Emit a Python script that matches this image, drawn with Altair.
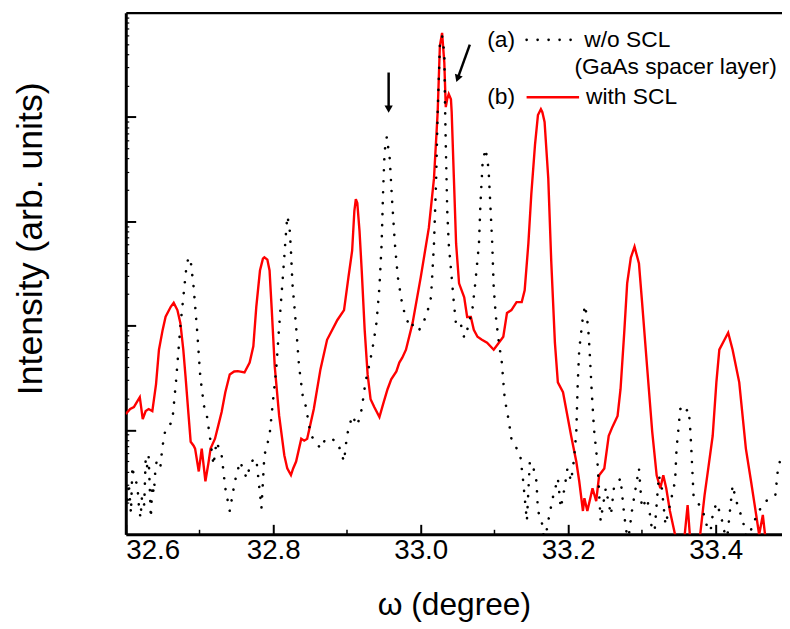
import altair as alt
import pandas as pd

# ---------------- data ----------------
# (b) with SCL : omega (degree) and log10(intensity)
omega_b = [32.600, 32.606, 32.611, 32.615, 32.619, 32.623, 32.627, 32.631, 32.636, 32.641,
           32.645, 32.650, 32.654, 32.661, 32.665, 32.670, 32.674, 32.678, 32.681, 32.685,
           32.688, 32.692, 32.694, 32.699, 32.703, 32.708, 32.712, 32.715, 32.721, 32.725,
           32.730, 32.735, 32.741, 32.747, 32.752, 32.761, 32.768, 32.773, 32.777, 32.782,
           32.786, 32.788, 32.792, 32.795, 32.798, 32.802, 32.808, 32.815, 32.819, 32.824,
           32.827, 32.831, 32.838, 32.842, 32.846, 32.855, 32.864, 32.873, 32.887, 32.896,
           32.902, 32.907, 32.910, 32.912, 32.914, 32.917, 32.920, 32.924, 32.928, 32.932,
           32.937, 32.944, 32.949, 32.955, 32.960, 32.967, 32.971, 32.975, 32.980, 32.989,
           33.000, 33.011, 33.018, 33.023, 33.026, 33.029, 33.030, 33.032, 33.034, 33.036,
           33.038, 33.041, 33.042, 33.045, 33.048, 33.052, 33.059, 33.063, 33.068, 33.072,
           33.077, 33.083, 33.090, 33.099, 33.106, 33.112, 33.117, 33.123, 33.130, 33.137,
           33.141, 33.146, 33.150, 33.155, 33.159, 33.163, 33.165, 33.168, 33.173, 33.177,
           33.182, 33.186, 33.193, 33.199, 33.204, 33.211, 33.215, 33.220, 33.222, 33.226,
           33.230, 33.233, 33.238, 33.242, 33.249, 33.255, 33.260, 33.267, 33.271, 33.276,
           33.280, 33.285, 33.290, 33.296, 33.300, 33.307, 33.314, 33.320, 33.325, 33.329,
           33.333, 33.338, 33.345, 33.351, 33.357, 33.362, 33.365, 33.369, 33.379, 33.385,
           33.390, 33.396, 33.401, 33.405, 33.412, 33.417, 33.423, 33.432, 33.441, 33.448,
           33.455, 33.459, 33.464, 33.467, 33.472]
log_b = [1.153, 1.200, 1.219, 1.267, 1.314, 1.105, 1.181, 1.200, 1.181, 1.437,
         1.769, 1.959, 2.085, 2.180, 2.218, 2.149, 2.026, 1.769, 1.516, 1.153,
         0.887, 0.849, 0.821, 0.602, 0.821, 0.508, 0.678, 0.821, 0.916, 1.029,
         1.172, 1.361, 1.532, 1.560, 1.564, 1.551, 1.646, 1.801, 2.180, 2.528,
         2.642, 2.655, 2.633, 2.528, 2.149, 1.611, 1.137, 0.757, 0.631, 0.567,
         0.631, 0.697, 0.916, 0.897, 0.916, 1.200, 1.580, 1.864, 2.054, 2.149,
         2.465, 2.718, 3.098, 3.212, 3.174, 2.908, 2.528, 1.959, 1.532, 1.295,
         1.219, 1.124, 1.248, 1.390, 1.485, 1.561, 1.646, 1.693, 1.769, 2.026,
         2.462, 2.936, 3.411, 4.046, 4.682, 4.806, 4.711, 4.521, 4.094, 4.173,
         4.220, 4.170, 4.046, 3.411, 2.785, 2.405, 2.272, 2.083, 2.083, 1.959,
         1.893, 1.864, 1.836, 1.769, 1.836, 1.893, 2.121, 2.149, 2.225, 2.225,
         2.339, 2.785, 3.259, 3.733, 4.018, 4.075, 4.046, 3.952, 3.411, 2.623,
         1.836, 1.456, 1.362, 1.134, 0.944, 0.697, 0.508, 0.223, 0.346, 0.223,
         0.346, 0.441, 0.318, 0.565, 0.631, 0.944, 1.029, 1.134, 1.390, 1.931,
         2.405, 2.652, 2.756, 2.595, 2.244, 1.608, 0.982, 0.565, 0.441, 0.565,
         0.441, 0.223, -0.005, -0.223, -0.081, 0.280, -0.005, -0.223, -0.005, 0.375,
         0.631, 0.944, 1.456, 1.769, 1.864, 1.931, 1.769, 1.456, 0.821, 0.508,
         0.185, -0.005, 0.185, -0.005, -0.223]

# (a) w/o SCL : omega (degree) and log10(intensity)
omega_a = [32.600, 32.602, 32.604, 32.607, 32.609, 32.611, 32.613, 32.616, 32.618, 32.620,
           32.622, 32.625, 32.627, 32.629, 32.631, 32.634, 32.636, 32.638, 32.640, 32.642,
           32.645, 32.647, 32.649, 32.651, 32.654,
           32.663, 32.668, 32.674, 32.679, 32.682, 32.685, 32.688,
           32.692, 32.697, 32.701, 32.706, 32.710, 32.715, 32.719, 32.723, 32.730, 32.735,
           32.741, 32.748, 32.755, 32.764, 32.770, 32.777, 32.784, 32.788, 32.795, 32.799,
           32.804, 32.808, 32.813, 32.817, 32.819, 32.822, 32.824, 32.826, 32.831, 32.835,
           32.840, 32.844, 32.851, 32.858, 32.864, 32.871, 32.878, 32.887, 32.896, 32.900,
           32.907, 32.914, 32.920, 32.925, 32.931, 32.936, 32.940, 32.944, 32.947, 32.949,
           32.951, 32.954, 32.958, 32.961, 32.965, 32.969, 32.974, 32.978, 32.983, 32.987,
           32.991, 32.998, 33.005, 33.009, 33.014, 33.016, 33.018, 33.021, 33.023, 33.026,
           33.029, 33.032, 33.033, 33.034, 33.036, 33.038, 33.042, 33.045, 33.048, 33.054,
           33.059, 33.063, 33.070, 33.074, 33.079, 33.081, 33.084, 33.088, 33.092, 33.094,
           33.097, 33.099, 33.102, 33.106, 33.110, 33.114, 33.119, 33.123, 33.128, 33.135,
           33.139, 33.144, 33.148, 33.152, 33.157, 33.159, 33.164, 33.168, 33.173, 33.179,
           33.186, 33.190, 33.195, 33.199, 33.204, 33.208, 33.211, 33.213, 33.215, 33.220,
           33.223, 33.227, 33.229, 33.232, 33.235, 33.240, 33.244, 33.251, 33.258, 33.262,
           33.271, 33.276, 33.281, 33.287, 33.296, 33.300, 33.307, 33.311, 33.316, 33.323,
           33.327, 33.332, 33.338, 33.345, 33.347, 33.352, 33.355, 33.358, 33.363, 33.365,
           33.367, 33.370, 33.374, 33.381, 33.387, 33.391, 33.396, 33.401, 33.407, 33.415,
           33.423, 33.428, 33.437, 33.443, 33.450, 33.461, 33.472, 33.481, 33.485, 33.489]
log_a = [0.441, 0.280, 0.489, 0.204, 0.650, 0.555, 0.536, 0.441, 0.251, 0.157,
         0.365, 0.280, 0.726, 0.650, 0.745, 0.157, 0.470, 0.394, 0.602, 0.707,
         0.697, 0.650, 0.792, 0.897, 1.010,
         1.077, 1.456, 1.991, 2.339, 2.547, 2.655, 2.623,
         2.370, 1.931, 1.516, 1.231, 1.137, 0.887, 0.662, 0.887, 0.757, 0.441,
         0.223, 0.508, 0.697, 0.536, 0.697, 0.726, 0.251, 0.757, 0.947, 1.231,
         1.580, 1.991, 2.465, 2.861, 3.050, 2.955, 2.718, 2.405, 1.991, 1.611,
         1.326, 1.231, 0.947, 0.887, 0.821, 0.916, 0.916, 0.887, 0.697, 0.947,
         1.137, 1.042, 1.200, 1.456, 1.646, 1.836, 2.026, 2.367, 2.785, 3.288,
         3.667, 3.809, 3.601, 3.221, 2.785, 2.462, 2.244, 2.121, 2.026, 2.054,
         1.959, 1.959, 2.054, 2.130, 2.272, 2.528, 2.785, 3.411, 4.046, 4.682,
         4.777, 4.616, 4.113, 3.733, 3.098, 2.785, 2.462, 2.215, 2.007, 2.026,
         1.883, 1.959, 2.149, 2.405, 2.785, 3.164, 3.572, 3.695, 3.506, 3.221,
         2.785, 2.367, 2.083, 1.836, 1.646, 1.295, 1.105, 0.916, 0.852, 0.757,
         0.508, 0.128, 0.697, 0.662, 0.508, 0.223, 0.128, -0.081, 0.128, 0.346,
         0.536, 0.251, 0.441, 0.631, 0.508, 0.726, 0.982, 1.456, 1.769, 2.085,
         2.196, 1.991, 1.769, 1.361, 1.010, 0.662, 0.128, 0.441, 0.185, 0.441,
         0.536, 0.185, -0.081, 0.251, 0.631, 0.251, 0.346, 0.185, -0.081, 0.565,
         0.441, 0.090, 0.280, 0.508, 0.821, 1.200, 1.219, 1.172, 1.200, 1.077,
         0.821, 0.375, 0.318, 0.251, 0.128, -0.081, 0.185, 0.299, 0.185, -0.081,
         0.470, 0.318, 0.128, -0.081, 0.090, 0.251, 0.346, 0.375, 0.660, 0.726]

# annotations (arrows) in data units
arrow_omega = [32.9565, 33.0666]
arrow_log = [4.426, 4.694]
head_omega = [32.9565, 33.050]
head_log = [4.075, 4.368]
head_angle = [0, 20]

# legend entries in data units
tag_text = ["(a)", "(b)"]
tag_omega = [33.1091, 33.1091]
tag_log = [4.739, 4.189]
name_text = ["w/o SCL", "(GaAs spacer layer)", "with SCL"]
name_omega = [33.2219, 33.2085, 33.2242]
name_log = [4.739, 4.475, 4.189]
sample_omega = [33.1436, 33.2058, 33.1436, 33.2148]
sample_log = [4.739, 4.189]

x_major = [32.6, 32.8, 33.0, 33.2, 33.4]
x_minor = [32.7, 32.9, 33.1, 33.3]
y_major = [10, 100, 1000, 10000]
y_minor = [k * 10 ** n for n in range(5) for k in range(2, 10)]

W, H = 663, 527
XDOM = [32.6, 33.49]
YDOM = [1, 100000]
FONT = "Liberation Sans"

df_b = pd.DataFrame({"omega": omega_b, "I": [10 ** v for v in log_b]})
df_a = pd.DataFrame({"omega": omega_a, "I": [10 ** v for v in log_a]})
df_a["seq"] = range(len(df_a))
df_arrow = pd.DataFrame({
    "x": arrow_omega, "y": [10 ** v for v in arrow_log],
    "x2": head_omega, "y2": [10 ** v for v in head_log],
    "angle": head_angle,
})
df_tag = pd.DataFrame({"t": tag_text, "x": tag_omega, "y": [10 ** v for v in tag_log]})
df_name = pd.DataFrame({"t": name_text, "x": name_omega, "y": [10 ** v for v in name_log]})
df_sa = pd.DataFrame({"x": sample_omega[:2], "y": [10 ** sample_log[0]] * 2})
df_sb = pd.DataFrame({"x": sample_omega[2:], "y": [10 ** sample_log[1]] * 2})

xs = alt.Scale(domain=XDOM, nice=False, zero=False)
ys = alt.Scale(type="log", domain=YDOM, nice=False)


def inner_x(values, size, width):
    return alt.Axis(orient="top", offset=-H, values=values, tickSize=size, tickWidth=width,
                    tickColor="black", labels=False, domain=False, grid=False, title=None)


def inner_y(values, size, width):
    return alt.Axis(orient="right", offset=-W, values=values, tickSize=size, tickWidth=width,
                    tickColor="black", labels=False, domain=False, grid=False, title=None)


red = alt.Chart(df_b).mark_line(color="#ff0000", strokeWidth=2.4, clip=True).encode(
    x=alt.X("omega:Q", scale=xs, axis=alt.Axis(
        orient="bottom", values=x_major, format=".1f", ticks=True, tickSize=0, tickWidth=0,
        grid=False, domain=True, domainColor="black", domainWidth=3,
        labelFont=FONT, labelFontSize=28, labelColor="black", labelPadding=3,
        title="ω (degree)", titleFont=FONT, titleFontSize=32, titleFontWeight="normal",
        titleColor="black", titlePadding=25)),
    y=alt.Y("I:Q", scale=ys, axis=alt.Axis(
        orient="left", ticks=False, labels=False, grid=False,
        domain=True, domainColor="black", domainWidth=3,
        title="Intensity (arb. units)", titleFont=FONT, titleFontSize=36,
        titleFontWeight="normal", titleColor="black", titlePadding=77, titleY=228)),
    order="omega:Q",
)

black = alt.Chart(df_a).mark_line(color="black", strokeWidth=2.6, strokeDash=[0.1, 11],
                                  strokeCap="round", clip=True).encode(
    x=alt.X("omega:Q", scale=xs, axis=inner_x(x_major, 10, 2)),
    y=alt.Y("I:Q", scale=ys, axis=inner_y(y_major, 10, 2)),
    order="seq:Q",
)

shafts = alt.Chart(df_arrow).mark_rule(color="black", strokeWidth=2.5).encode(
    x=alt.X("x:Q", scale=xs, axis=inner_x(x_minor, 5, 1.5)),
    y=alt.Y("y:Q", scale=ys, axis=inner_y(y_minor, 3, 1.2)),
    x2="x2:Q", y2="y2:Q",
)

heads = alt.Chart(df_arrow).mark_point(shape="triangle-down", filled=True, color="black",
                                       size=70, opacity=1).encode(
    x=alt.X("x2:Q", scale=xs, axis=alt.Axis(orient="top", ticks=False, labels=False,
                                              grid=False, domain=True, domainColor="black",
                                              domainWidth=2.5, title=None)),
    y=alt.Y("y2:Q", scale=ys, axis=None),
    angle=alt.Angle("angle:Q", scale=None),
)

tags = alt.Chart(df_tag).mark_text(font=FONT, fontSize=23, baseline="middle", align="center",
                                   color="black").encode(
    x=alt.X("x:Q", scale=xs, axis=None),
    y=alt.Y("y:Q", scale=ys, axis=None),
    text="t:N",
)
names = alt.Chart(df_name).mark_text(font=FONT, fontSize=23, baseline="middle", align="left",
                                     color="black").encode(
    x=alt.X("x:Q", scale=xs, axis=None),
    y=alt.Y("y:Q", scale=ys, axis=None),
    text="t:N",
)

samp_a = alt.Chart(df_sa).mark_line(
    color="black", strokeWidth=2.6, strokeDash=[0.1, 11], strokeCap="round").encode(
    x=alt.X("x:Q", scale=xs, axis=None),
    y=alt.Y("y:Q", scale=ys, axis=None),
)
samp_b = alt.Chart(df_sb).mark_line(color="#ff0000", strokeWidth=2.4).encode(
    x=alt.X("x:Q", scale=xs, axis=None),
    y=alt.Y("y:Q", scale=ys, axis=None),
)

chart = alt.layer(red, black, shafts, heads, tags, names, samp_a, samp_b).resolve_axis(
    x="independent", y="independent"
).properties(
    width=W, height=H,
    autosize=alt.AutoSizeParams(type="none"),
    padding={"left": 119, "top": 1.5, "right": 0, "bottom": 88},
    background="white",
).configure_view(stroke=None)

chart.save("out.html", embed_options={"renderer": "svg", "actions": False})
